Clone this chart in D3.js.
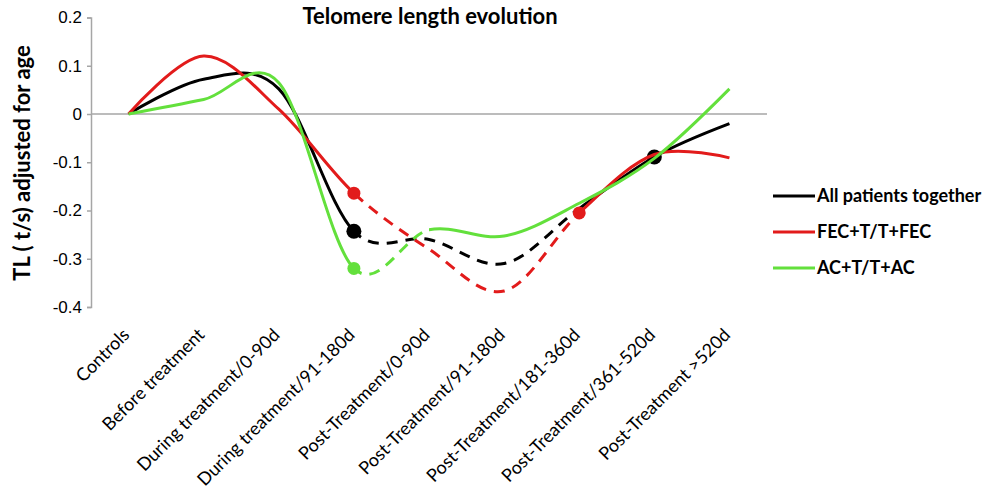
<!DOCTYPE html>
<html>
<head>
<meta charset="utf-8">
<script src="https://cdn.jsdelivr.net/npm/d3@7"></script>
<style>
  body { margin: 0; background: #fff; }
  svg { display: block; font-family: Lato, "Open Sans", sans-serif; }
</style>
</head>
<body>
<script>
// Data
const categories = [
  "Controls",
  "Before treatment",
  "During treatment/0-90d",
  "During treatment/91-180d",
  "Post-Treatment/0-90d",
  "Post-Treatment/91-180d",
  "Post-Treatment/181-360d",
  "Post-Treatment/361-520d",
  "Post-Treatment >520d"
];
const allPatients = [0, 0.072, 0.052, -0.243, -0.26, -0.31, -0.196, -0.089, -0.02];
const fecGroup = [0, 0.12, 0.01, -0.164, -0.28, -0.367, -0.205, -0.084, -0.091];
const acGroup = [0, 0.03, 0.065, -0.32, -0.24, -0.253, -0.185, -0.092, 0.052];
const yTicks = [0.2, 0.1, 0, -0.1, -0.2, -0.3, -0.4];

const series = [
  { name: "All patients together", values: allPatients, color: "#000000", dashed: [3, 6], dots: [3, 7], r: 7.5 },
  { name: "FEC+T/T+FEC", values: fecGroup, color: "#e21b1b", dashed: [3, 6], dots: [3, 6], r: 6.5 },
  { name: "AC+T/T+AC", values: acGroup, color: "#63e03c", dashed: [3, 4], dots: [3], r: 6.5 }
];

const width = 1001;
const height = 490;

const svg = d3.select("body")
  .append("svg")
  .attr("width", width)
  .attr("height", height);

const x = d3.scalePoint()
  .domain(categories)
  .range([91, 767])
  .padding(0.5);

const y = d3.scaleLinear()
  .domain([-0.4, 0.2])
  .range([307, 17.5]);

// y axis
const yAxis = svg.append("g")
  .attr("transform", "translate(91,0)")
  .call(d3.axisLeft(y).tickValues(yTicks).tickSize(4).tickPadding(5).tickFormat(d => String(d)));
yAxis.select(".domain").attr("stroke", "#a6a6a6").attr("stroke-width", 1.5);
yAxis.selectAll(".tick line").attr("stroke", "#a6a6a6").attr("stroke-width", 1.5);
yAxis.selectAll(".tick text")
  .attr("fill", "#000")
  .style("font-size", "17px");

// zero line acts as the category axis
svg.append("line")
  .attr("x1", 91)
  .attr("x2", 767)
  .attr("y1", y(0))
  .attr("y2", y(0))
  .attr("stroke", "#a6a6a6")
  .attr("stroke-width", 1.5);

// category labels, rotated
svg.append("g")
  .selectAll("text")
  .data(categories)
  .join("text")
  .attr("transform", d => "translate(" + (x(d) + 2) + ",336) rotate(-45)")
  .attr("text-anchor", "end")
  .style("font-size", "18px")
  .text(d => d);

// title and axis label
svg.append("text")
  .attr("x", 430)
  .attr("y", 24)
  .attr("text-anchor", "middle")
  .style("font-size", "22px")
  .style("font-weight", "bold")
  .text("Telomere length evolution");

svg.append("text")
  .attr("transform", "translate(30,163) rotate(-90)")
  .attr("text-anchor", "middle")
  .style("font-size", "22px")
  .style("font-weight", "bold")
  .text("TL ( t/s) adjusted for age");

const line = d3.line()
  .x((d, i) => x(categories[i]))
  .y(d => y(d))
  .curve(d3.curveCardinal.tension(0));

const defs = svg.append("defs");

series.forEach((s, k) => {
  const xa = x(categories[s.dashed[0]]);
  const xb = x(categories[s.dashed[1]]);

  // clip for the solid part (outside dashed range) and dashed part
  const solidClip = defs.append("clipPath").attr("id", "solid" + k);
  solidClip.append("rect").attr("x", 0).attr("y", 0).attr("width", xa).attr("height", height);
  solidClip.append("rect").attr("x", xb).attr("y", 0).attr("width", width - xb).attr("height", height);
  defs.append("clipPath").attr("id", "dash" + k)
    .append("rect").attr("x", xa).attr("y", 0).attr("width", xb - xa).attr("height", height);

  const g = svg.append("g");

  g.append("path")
    .attr("d", line(s.values))
    .attr("clip-path", "url(#solid" + k + ")")
    .attr("fill", "none")
    .attr("stroke", s.color)
    .attr("stroke-width", 3);

  g.append("path")
    .attr("d", line(s.values))
    .attr("clip-path", "url(#dash" + k + ")")
    .attr("fill", "none")
    .attr("stroke", s.color)
    .attr("stroke-width", 3)
    .attr("stroke-dasharray", "11,8");

  g.selectAll("circle")
    .data(s.dots)
    .join("circle")
    .attr("cx", i => x(categories[i]))
    .attr("cy", i => y(s.values[i]))
    .attr("r", s.r)
    .attr("fill", s.color);
});

// legend
const legend = svg.append("g")
  .selectAll("g")
  .data(series)
  .join("g")
  .attr("transform", (d, i) => "translate(773," + (196 + i * 36) + ")");

legend.append("line")
  .attr("x1", 0)
  .attr("x2", 42)
  .attr("stroke", d => d.color)
  .attr("stroke-width", 3);

legend.append("text")
  .attr("x", 44)
  .attr("y", 6)
  .style("font-size", "18px")
  .style("font-weight", "bold")
  .text(d => d.name);
</script>
</body>
</html>
